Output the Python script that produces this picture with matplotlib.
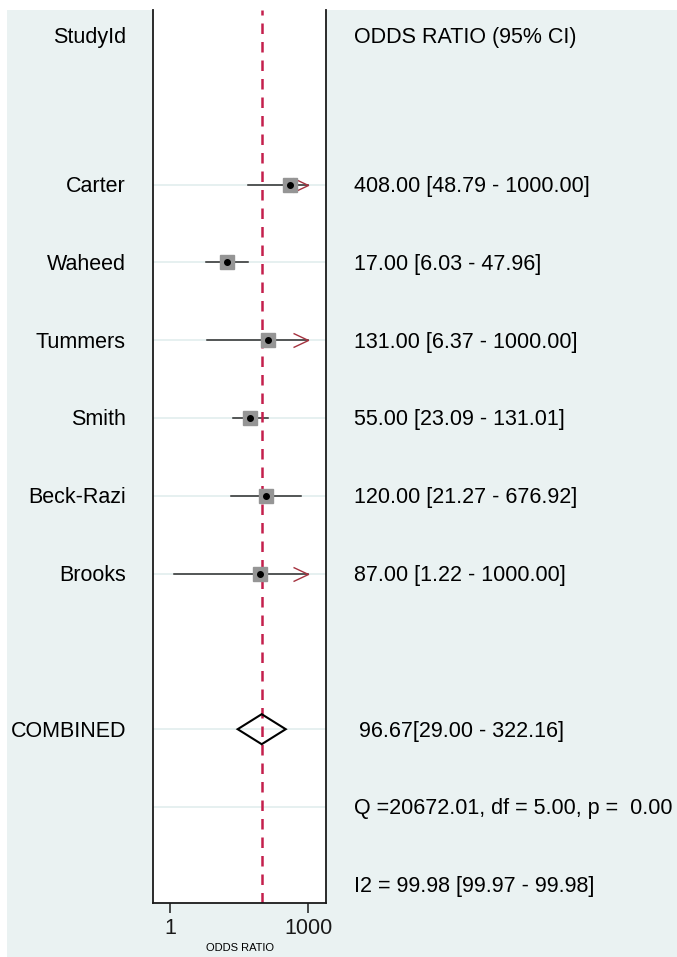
import numpy as np
import matplotlib
matplotlib.use("Agg")
import matplotlib.pyplot as plt
import matplotlib.transforms as mtransforms
from matplotlib.path import Path
from matplotlib.patches import Rectangle

plt.rcParams['font.family'] = ['Liberation Sans', 'DejaVu Sans']

# study level odds ratios with 95% CI
studies = ["Carter", "Waheed", "Tummers", "Smith", "Beck-Razi", "Brooks"]
odds = [408.00, 17.00, 131.00, 55.00, 120.00, 87.00]
lower = [48.79, 6.03, 6.37, 23.09, 21.27, 1.22]
upper = [1000.00, 47.96, 1000.00, 131.01, 676.92, 1000.00]

# pooled estimate and heterogeneity
comb_or, comb_lo, comb_hi = 96.67, 29.00, 322.16
q_stat, q_df, q_p = 20672.01, 5.00, 0.00
i2, i2_lo, i2_hi = 99.98, 99.97, 99.98

x_max = 1000.0
xticks = [1, 1000]

W, H = 677, 957
fig = plt.figure(figsize=(W / 100, H / 100), dpi=100, facecolor='white')
bg = '#eaf2f2'
fig.patches.append(Rectangle((7 / W, -0.01), 1, 1.01 - 10 / H, transform=fig.transFigure,
                             facecolor=bg, edgecolor='none', zorder=-10))

ax = fig.add_axes([153 / W, 1 - 903 / H, (326 - 153) / W, (903 - 10) / H])
ax.set_facecolor('white')
ax.set_xscale('log')
ax.set_xlim(0.416, 2427)
ax.set_ylim(11.234, -0.244)

# row layout: header, blank, studies, blank, combined, Q, I2
study_rows = np.arange(2, 2 + len(studies))
comb_row = study_rows[-1] + 2
q_row = comb_row + 1
i2_row = comb_row + 2

for r in list(study_rows) + [comb_row, q_row]:
    ax.axhline(r, color='#e2eded', lw=1.2, zorder=0)

ax.axvline(comb_or, color='#c41f4c', lw=1.8, ls=(0, (4.2, 3.2)), zorder=2)

chevron = Path([(-1, 0.47), (0, 0), (-1, -0.47)],
               [Path.MOVETO, Path.LINETO, Path.LINETO])

for r, o, lo, hi in zip(study_rows, odds, lower, upper):
    ax.plot([lo, min(hi, x_max)], [r, r], color='#2b2b2b', lw=1.1, zorder=1)
    if hi >= x_max:
        ax.plot([x_max], [r], marker=chevron, ms=21.6, mfc='none',
                mec='#a5323f', mew=1.0, zorder=3)
    ax.plot([o], [r], marker='s', ms=10, color='#959595', mec='#959595', zorder=4)
    ax.plot([o], [r], marker='o', ms=4, color='black', zorder=5)

dh = 0.193
ax.fill([comb_lo, comb_or, comb_hi, comb_or, comb_lo],
        [comb_row, comb_row - dh, comb_row, comb_row + dh, comb_row],
        facecolor='none', edgecolor='black', lw=1.5, zorder=4)

for s in ['left', 'right', 'bottom']:
    ax.spines[s].set_linewidth(1.3)
    ax.spines[s].set_color('#1a1a1a')
ax.spines['top'].set_visible(False)

ax.set_yticks([])
ax.set_xticks(xticks)
ax.set_xticklabels([str(t) for t in xticks], fontsize=15.5)
ax.xaxis.set_minor_locator(matplotlib.ticker.NullLocator())
ax.tick_params(axis='x', length=7, width=1.1, pad=4, colors='#1a1a1a')
ax.set_xlabel('ODDS RATIO', fontsize=8, labelpad=3)

# left and right text columns
trans = mtransforms.blended_transform_factory(fig.transFigure, ax.transData)
trans = mtransforms.offset_copy(trans, fig=fig, y=-2, units='dots')
fs = 15.5
xl = 126 / W
xr = 354 / W
head_row = 0.08
ax.text(xl, head_row, 'StudyId', transform=trans, ha='right', va='center', fontsize=fs)
ax.text(xr, head_row, 'ODDS RATIO (95% CI)', transform=trans, ha='left', va='center', fontsize=fs)
for r, name, o, lo, hi in zip(study_rows, studies, odds, lower, upper):
    ax.text(xl, r, name, transform=trans, ha='right', va='center', fontsize=fs)
    ax.text(xr, r, f'{o:.2f} [{lo:.2f} - {hi:.2f}]', transform=trans,
            ha='left', va='center', fontsize=fs)
ax.text(xl, comb_row, 'COMBINED', transform=trans, ha='right', va='center', fontsize=fs)
ax.text(359 / W, comb_row, f'{comb_or:.2f}[{comb_lo:.2f} - {comb_hi:.2f}]',
        transform=trans, ha='left', va='center', fontsize=fs)
ax.text(xr, q_row, f'Q ={q_stat:.2f}, df = {q_df:.2f}, p =  {q_p:.2f}',
        transform=trans, ha='left', va='center', fontsize=fs)
ax.text(xr, i2_row, f'I2 = {i2:.2f} [{i2_lo:.2f} - {i2_hi:.2f}]',
        transform=trans, ha='left', va='center', fontsize=fs)

fig.savefig('out.png', dpi=100, facecolor='white')
